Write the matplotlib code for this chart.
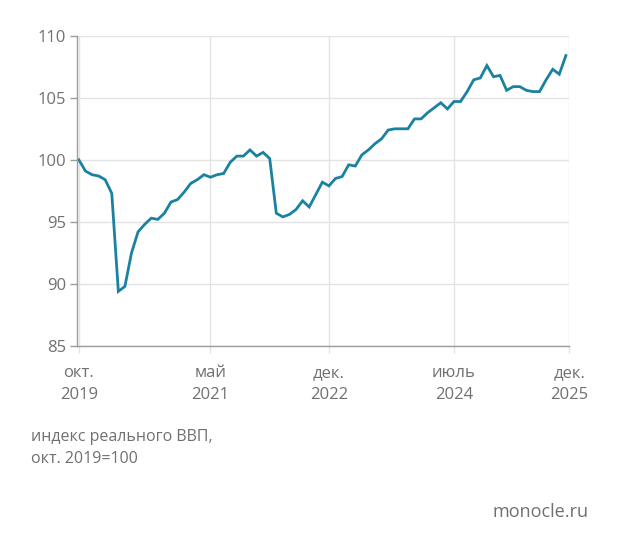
import matplotlib.pyplot as plt

plt.rcParams['font.family'] = ['Open Sans', 'DejaVu Sans']

# monthly index of real GDP, Oct 2019 = 100 (Oct 2019 .. Dec 2025)
gdp = [
    100.0, 99.1, 98.8, 98.7, 98.4, 97.3, 89.4, 89.8, 92.5, 94.2,
    94.8, 95.3, 95.2, 95.7, 96.6, 96.8, 97.4, 98.1, 98.4, 98.8,
    98.6, 98.8, 98.9, 99.8, 100.3, 100.3, 100.8, 100.3, 100.6, 100.1,
    95.7, 95.4, 95.6, 96.0, 96.7, 96.2, 97.2, 98.2, 97.9, 98.5,
    98.65, 99.6, 99.5, 100.4, 100.8, 101.3, 101.7, 102.4, 102.5, 102.5,
    102.5, 103.3, 103.3, 103.8, 104.2, 104.6, 104.1, 104.7, 104.7, 105.5,
    106.45, 106.6, 107.6, 106.7, 106.8, 105.6, 105.9, 105.9, 105.6, 105.5,
    105.5, 106.45, 107.3, 106.9, 108.4,
]
months = list(range(len(gdp)))

tick_pos = [0, 20, 38, 57, 74.5]
tick_labels = ["окт.\n2019", "май\n2021", "дек.\n2022", "июль\n2024", "дек.\n2025"]
y_ticks = [85, 90, 95, 100, 105, 110]

grey = "#707070"
line_col = "#1a82a1"

fig = plt.figure(figsize=(6.2, 5.5), dpi=100)
ax = fig.add_axes([0.124, 0.371, 0.794, 0.564])

ax.plot(months, gdp, color=line_col, lw=2.0, solid_joinstyle="miter")

ax.set_xlim(-0.3, 74.5)
ax.set_ylim(85, 110)
ax.set_yticks(y_ticks)
ax.set_xticks(tick_pos)
ax.set_xticklabels(tick_labels)

ax.grid(True, color="#e3e3e3", lw=1.0)
ax.set_axisbelow(True)

for s in ["top", "right"]:
    ax.spines[s].set_visible(False)
for s in ["left", "bottom"]:
    ax.spines[s].set_color("#9c9c9c")
    ax.spines[s].set_linewidth(1.0)

ax.tick_params(axis="y", colors="#9c9c9c", labelcolor=grey, labelsize=12,
               length=5, width=1.0, pad=3)
ax.tick_params(axis="x", colors="#e3e3e3", labelcolor=grey, labelsize=12,
               length=5, width=1.0, pad=9)
for lab in ax.get_xticklabels():
    lab.set_linespacing(1.5)

fig.text(31 / 620, 1 - 448 / 550, "индекс реального ВВП,\nокт. 2019=100",
         color=grey, fontsize=11.5, ha="left", va="center", linespacing=1.5)
fig.text(589 / 620, 1 - 512 / 550, "monocle.ru", color=grey, fontsize=13,
         ha="right", va="center")

fig.savefig("out.png", dpi=100)
